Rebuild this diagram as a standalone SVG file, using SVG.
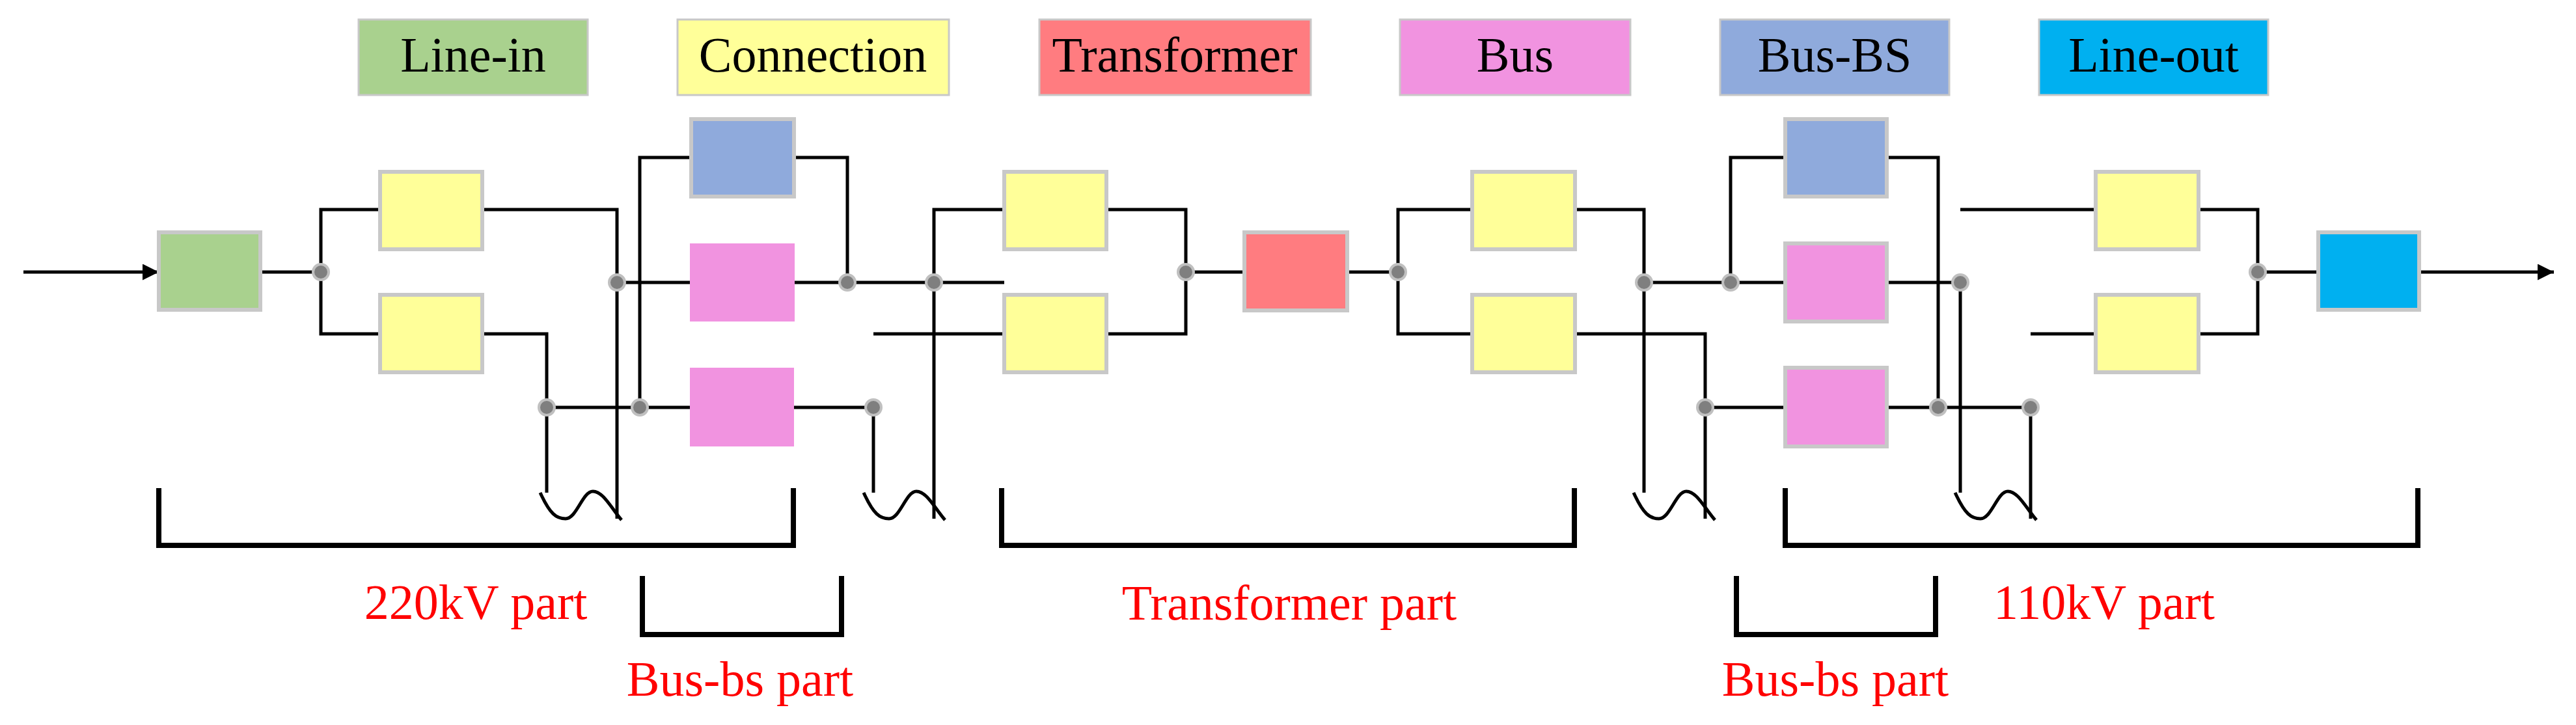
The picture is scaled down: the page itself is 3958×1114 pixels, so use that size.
<svg xmlns="http://www.w3.org/2000/svg" width="3958" height="1114" viewBox="0 0 3958 1114">
<style>
.lg{stroke:#c8c8c8;stroke-width:3}
.nd{stroke:#c8c8c8;stroke-width:6}
.lt{font-family:"Liberation Serif",serif;font-size:76px;fill:#000;text-anchor:middle}
.rt{font-family:"Liberation Serif",serif;font-size:76px;fill:#ff0000;text-anchor:middle}
.w{fill:none;stroke:#000;stroke-width:5}
.br{fill:none;stroke:#000;stroke-width:8}
.dot{fill:#7f7f7f;stroke:#c0c0c0;stroke-width:4}
.g{fill:#a9d18e}.y{fill:#ffff99}.t{fill:#ff7c80}.p{fill:#f193e0}.b{fill:#8faadc}.c{fill:#00b0f0}
</style>
<defs><marker id="ah" viewBox="0 0 10 10" refX="10" refY="5" markerWidth="6" markerHeight="5" orient="auto" markerUnits="strokeWidth"><path d="M0,0 L10,5 L0,10 z" fill="#000"/></marker></defs>
<g id="legend">
<rect class="lg g" x="551" y="30" width="352" height="116"/><text class="lt" x="727" y="110">Line-in</text>
<rect class="lg y" x="1041" y="30" width="417" height="116"/><text class="lt" x="1249" y="110">Connection</text>
<rect class="lg t" x="1597" y="30" width="417" height="116"/><text class="lt" x="1805" y="110">Transformer</text>
<rect class="lg p" x="2151" y="30" width="354" height="116"/><text class="lt" x="2328" y="110">Bus</text>
<rect class="lg b" x="2643" y="30" width="352" height="116"/><text class="lt" x="2819" y="110">Bus-BS</text>
<rect class="lg c" x="3133" y="30" width="352" height="116"/><text class="lt" x="3309" y="110">Line-out</text>
</g>
<g id="connectors">
<path class="w" d="M36 418 H244" marker-end="url(#ah)"/>
<path class="w" d="M400 418 H493 M584 322 H493 V513 H584"/>
<path class="w" d="M741 322 H948 V797 M741 513 H840 V757"/>
<path class="w" d="M840 626 H1060 M983 626 V242 H1062 M948 434 H1060 M1221 434 H1543"/>
<path class="w" d="M1220 242 H1302 V434 M1220 626 H1342 V757 M1342 513 H1543 M1435 797 V322 H1543"/>
<path class="w" d="M1700 322 H1822 V513 H1700 M1822 418 H1912 M2070 418 H2148 M2262 322 H2148 V513 H2262"/>
<path class="w" d="M2420 322 H2526 V757 M2420 513 H2620 V797 M2526 434 H2743 M2659 434 V242 H2743 M2620 626 H2743"/>
<path class="w" d="M2899 242 H2978 V626 M2899 626 H3120 V797 M3120 513 H3220 M2899 434 H3012 V757 M3012 322 H3220"/>
<path class="w" d="M3378 322 H3469 V513 H3378 M3469 418 H3562"/>
<path class="w" d="M3717 418 H3924" marker-end="url(#ah)"/>
<path class="w" d="M830 757 C845 790 855 797 869 797 C886 797 895 755 911 755 C927 755 940 782 955 799"/>
<path class="w" d="M1327 757 C1342 790 1352 797 1366 797 C1383 797 1392 755 1408 755 C1424 755 1437 782 1452 799"/>
<path class="w" d="M2510 757 C2525 790 2535 797 2549 797 C2566 797 2575 755 2591 755 C2607 755 2620 782 2635 799"/>
<path class="w" d="M3004 757 C3019 790 3029 797 3043 797 C3060 797 3069 755 3085 755 C3101 755 3114 782 3129 799"/>
<circle class="dot" cx="493" cy="418" r="12"/><circle class="dot" cx="948" cy="434" r="12"/>
<circle class="dot" cx="840" cy="626" r="12"/><circle class="dot" cx="983" cy="626" r="12"/>
<circle class="dot" cx="1302" cy="434" r="12"/><circle class="dot" cx="1342" cy="626" r="12"/>
<circle class="dot" cx="1435" cy="434" r="12"/><circle class="dot" cx="1822" cy="418" r="12"/>
<circle class="dot" cx="2148" cy="418" r="12"/><circle class="dot" cx="2526" cy="434" r="12"/>
<circle class="dot" cx="2620" cy="626" r="12"/><circle class="dot" cx="2659" cy="434" r="12"/>
<circle class="dot" cx="2978" cy="626" r="12"/><circle class="dot" cx="3012" cy="434" r="12"/>
<circle class="dot" cx="3120" cy="626" r="12"/><circle class="dot" cx="3469" cy="418" r="12"/>
</g>
<g id="n-linein"><rect class="nd g" x="244" y="357" width="156" height="119"/></g>
<g id="n-c1"><rect class="nd y" x="584" y="264" width="157" height="119"/></g>
<g id="n-c2"><rect class="nd y" x="584" y="453" width="157" height="119"/></g>
<g id="n-bbs1"><rect class="nd b" x="1062" y="183" width="158" height="119"/></g>
<g id="n-bus1"><rect class="p" x="1060" y="374" width="161" height="120"/></g>
<g id="n-bus2"><rect class="p" x="1060" y="565" width="160" height="121"/></g>
<g id="n-c3"><rect class="nd y" x="1543" y="264" width="157" height="119"/></g>
<g id="n-c4"><rect class="nd y" x="1543" y="453" width="157" height="119"/></g>
<g id="n-tr"><rect class="nd t" x="1912" y="357" width="158" height="120"/></g>
<g id="n-c5"><rect class="nd y" x="2262" y="264" width="158" height="119"/></g>
<g id="n-c6"><rect class="nd y" x="2262" y="453" width="158" height="119"/></g>
<g id="n-bbs2"><rect class="nd b" x="2743" y="183" width="156" height="119"/></g>
<g id="n-bus3"><rect class="nd p" x="2743" y="374" width="156" height="120"/></g>
<g id="n-bus4"><rect class="nd p" x="2743" y="565" width="156" height="121"/></g>
<g id="n-c7"><rect class="nd y" x="3220" y="264" width="158" height="119"/></g>
<g id="n-c8"><rect class="nd y" x="3220" y="453" width="158" height="119"/></g>
<g id="n-lineout"><rect class="nd c" x="3562" y="357" width="155" height="119"/></g>
<g id="brackets">
<path class="br" d="M244 750 V838 H1219 V750"/>
<path class="br" d="M1539 750 V838 H2419 V750"/>
<path class="br" d="M2743 750 V838 H3715 V750"/>
<path class="br" d="M987 885 V975 H1293 V885"/>
<path class="br" d="M2668 885 V975 H2974 V885"/>
<text class="rt" x="731" y="951">220kV part</text>
<text class="rt" x="1981" y="952">Transformer part</text>
<text class="rt" x="3233" y="951">110kV part</text>
<text class="rt" x="1137" y="1069">Bus-bs part</text>
<text class="rt" x="2820" y="1069">Bus-bs part</text>
</g>
</svg>
